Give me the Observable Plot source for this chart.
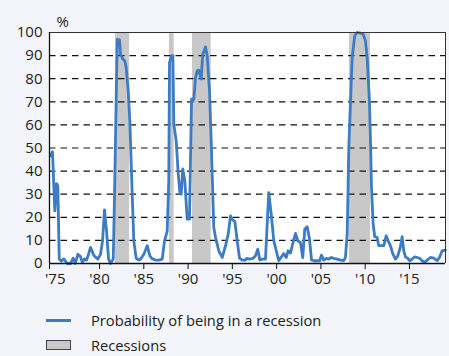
<!DOCTYPE html>
<html>
<head>
<meta charset="utf-8">
<script src="https://cdn.jsdelivr.net/npm/d3@7"></script>
<script src="https://cdn.jsdelivr.net/npm/@observablehq/plot@0.6"></script>
<style>
  html, body { margin: 0; padding: 0; background: #f3f5fa; }
  body { width: 449px; height: 356px; position: relative; overflow: hidden; font-family: "Open Sans", sans-serif; }
  #chart { position: absolute; left: 0; top: 0; }
  .leg { position: absolute; left: 0; font-size: 14.7px; color: #222; }
  .leg .sw { position: absolute; left: 46px; width: 25px; }
  .leg .tx { position: absolute; left: 91px; white-space: nowrap; }
</style>
</head>
<body>
<div id="chart"></div>
<div class="leg" style="top:310px">
  <div class="sw" style="top:9px;height:0;border-top:3px solid #3b7cc4"></div>
  <div class="tx" style="top:0">Probability of being in a recession</div>
</div>
<div class="leg" style="top:335px">
  <div class="sw" style="top:5px;height:8px;background:#c8c8c8;border:1px solid #444;width:23px"></div>
  <div class="tx" style="top:0">Recessions</div>
</div>
<script>
const years = [1974.47,1974.69,1974.95,1975.15,1975.29,1975.45,1975.68,1975.97,1976.35,1976.73,1977.03,1977.26,1977.55,1977.85,1978.05,1978.31,1978.53,1978.68,1978.98,1979.36,1979.81,1980.11,1980.34,1980.56,1980.79,1981.02,1981.24,1981.55,1981.69,1982.0,1982.26,1982.37,1982.63,1982.86,1983.01,1983.24,1983.42,1983.69,1983.87,1984.14,1984.44,1984.63,1985.0,1985.39,1985.68,1985.95,1986.32,1986.7,1987.08,1987.34,1987.64,1987.82,1987.9,1988.13,1988.28,1988.39,1988.66,1988.89,1989.07,1989.22,1989.4,1989.63,1989.9,1990.16,1990.39,1990.65,1990.84,1991.03,1991.21,1991.48,1991.66,1991.97,1992.16,1992.42,1992.61,1992.9,1993.1,1993.47,1993.85,1994.23,1994.53,1994.79,1995.05,1995.28,1995.55,1995.81,1996.11,1996.48,1996.6,1996.93,1997.31,1997.61,1997.87,1998.1,1998.37,1998.74,1999.11,1999.39,1999.68,2000.06,2000.24,2000.55,2000.81,2001.08,2001.3,2001.56,2001.76,2002.13,2002.39,2002.69,2002.95,2003.18,2003.45,2003.71,2003.94,2004.19,2004.57,2004.87,2005.06,2005.32,2005.62,2005.89,2006.16,2006.45,2006.84,2007.21,2007.58,2007.77,2007.97,2008.15,2008.53,2008.82,2009.09,2009.47,2009.77,2010.03,2010.22,2010.48,2010.6,2010.71,2010.9,2011.08,2011.35,2011.53,2011.92,2012.1,2012.37,2012.59,2012.85,2013.11,2013.42,2013.68,2013.98,2014.17,2014.36,2014.55,2014.81,2015.03,2015.3,2015.6,2015.87,2016.16,2016.43,2016.73,2017.0,2017.37,2017.74,2018.13,2018.39,2018.69,2019.06];
const probs = [46.6,48.4,22.8,34.6,33.6,1.9,1,2,0,0,2.3,0,4,3,0.5,2,1.5,3,7,3.5,1.9,4,9.8,23.2,14,2,0,2,28.6,97,96.8,90.6,88.5,87.7,84.8,74.8,61.8,30,9.8,2.2,1.5,1.9,4,7.7,3.3,2,1.5,1.5,1.9,9.8,14,35.8,87,89.9,90,60.3,53,38.7,30.7,30,40.9,35.8,19.2,19.2,71.2,71,80.5,83.4,83.7,79.8,90.6,93.8,89.9,74.8,53,15.6,11.3,5.5,2.6,7.7,12.7,20.6,18.8,18.2,9.8,2.3,1.5,1.5,2.2,1.9,2.2,3.3,6.2,1.5,1.9,1.9,30.7,21.4,9.8,4,1.2,2.9,4.3,2.6,5.5,4.5,7.7,13,9.8,9.1,2.6,14.9,15.9,10.6,1.5,1.2,1.2,1.2,3.6,1.5,2.2,1.9,2.6,2.2,1.9,1.5,1.2,2.6,12.7,50,89.2,98.6,100,99.7,99.3,96.4,89.2,70.4,53,32.9,17,11.6,11.3,7.7,7.7,7.7,12,9.8,7.7,4.3,1.9,3.3,7.2,11.6,5.5,2.9,2.2,1.2,1.9,2.9,2.6,2.2,1.2,0.4,1.5,2.6,2.3,1.2,2.6,5.5,5.8];
const recStart = [1981.8, 1987.9, 1990.5, 2008.22];
const recEnd   = [1983.4, 1988.43, 1992.61, 2010.6];
const xDomain = [1974.35, 2019.07];
const tickMarks = [1974.35, 1980, 1985, 1990, 1995, 2000, 2005, 2010, 2015];
const tickYears = [1975, 1980, 1985, 1990, 1995, 2000, 2005, 2010, 2015];
const tickLabels = ["'75", "'80", "'85", "'90", "'95", "'00", "'05", "'10", "'15"];
const yTicks = [0, 10, 20, 30, 40, 50, 60, 70, 80, 90, 100];
const gridVals = [10, 20, 30, 40, 50, 60, 70, 80, 90];

const series = years.map((y, i) => ({year: y, p: probs[i]}));
const recessions = recStart.map((s, i) => ({start: s, end: recEnd[i]}));

const chart = Plot.plot({
  width: 449, height: 296,
  marginLeft: 49, marginRight: 4, marginTop: 32, marginBottom: 33,
  style: {background: "transparent", fontFamily: "'Open Sans', sans-serif", fontSize: "15px", color: "#222"},
  x: {domain: xDomain},
  y: {domain: [0, 100]},
  marks: [
    Plot.frame({fill: "white", stroke: null}),
    Plot.rect(recessions, {x1: "start", x2: "end", y1: 0, y2: 100, fill: "#c8c8c8"}),
    Plot.ruleY(gridVals, {stroke: "#111", strokeWidth: 1.2, strokeDasharray: "6.5,5"}),
    Plot.line(series, {x: "year", y: "p", stroke: "#3b7cc4", strokeWidth: 2.8, strokeLinejoin: "round"}),
    Plot.ruleY([100], {stroke: "#333", strokeWidth: 1}),
    Plot.ruleX([xDomain[1]], {stroke: "#333", strokeWidth: 1}),
    Plot.ruleX([xDomain[0]], {stroke: "#111", strokeWidth: 1.3}),
    Plot.ruleY([0], {stroke: "#111", strokeWidth: 1.3}),
    Plot.axisX({ticks: tickMarks, tickFormat: () => "", tickSize: 6, label: null, stroke: "#111"}),
    Plot.axisX({ticks: tickYears, tickFormat: (d, i) => tickLabels[i], tickSize: 0, tickPadding: 10, label: null}),
    Plot.axisY({ticks: yTicks, tickSize: 0, tickPadding: 7, label: null}),
    Plot.text(["%"], {frameAnchor: "top-left", dx: 7, dy: -16, fontSize: 15})
  ]
});
document.getElementById("chart").appendChild(chart);
</script>
</body>
</html>
